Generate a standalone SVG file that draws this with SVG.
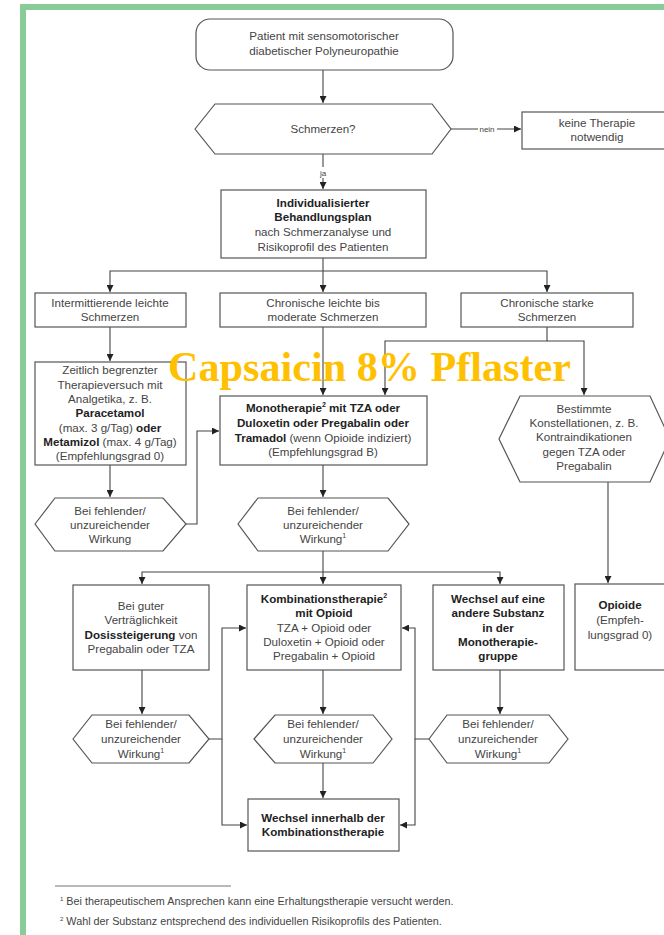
<svg xmlns="http://www.w3.org/2000/svg" width="664" height="935" viewBox="0 0 664 935">
<defs>
<marker id="ah" markerUnits="userSpaceOnUse" markerWidth="8" markerHeight="7" refX="7" refY="3.5" orient="auto">
<path d="M0,0 L7,3.5 L0,7 z" fill="#222"/>
</marker>
<style>
.n{fill:#fff;stroke:#555;stroke-width:1.2}
.t{font-family:"Liberation Sans",Arial,sans-serif;font-size:11.6px;fill:#444;text-anchor:middle}
.b{font-weight:bold;fill:#222}
.c{fill:none;stroke:#444;stroke-width:1.1}
.a{marker-end:url(#ah)}
.f{font-family:"Liberation Sans",Arial,sans-serif;font-size:10.8px;fill:#444}
.l{font-family:"Liberation Sans",Arial,sans-serif;font-size:8px;fill:#444;text-anchor:middle}
</style>
</defs>
<rect width="664" height="935" fill="#fff"/>
<g id="frame" fill="#88cd97">
<rect x="20" y="4" width="644" height="6"/>
<rect x="20" y="4" width="6" height="931"/>
</g>

<g id="connectors">
<path class="c a" d="M323 70 V103"/>
<path class="c a" d="M451 129 H521"/>
<path class="c a" d="M323 154 V189"/>
<path class="c a" d="M323 258 V292"/>
<path class="c a" d="M323 271 H110 V292"/>
<path class="c a" d="M323 271 H547 V292"/>
<path class="c a" d="M110 327 V361"/>
<path class="c a" d="M323 327 V395"/>
<path class="c a" d="M547 327 V341 H385 V395"/>
<path class="c a" d="M547 341 H584 V395"/>
<path class="c a" d="M608 482 V583"/>
<path class="c a" d="M110 465 V497"/>
<path class="c a" d="M186 524 H197 V431 H219"/>
<path class="c a" d="M323 465 V497"/>
<path class="c a" d="M323 551 V584"/>
<path class="c a" d="M323 572 H142 V584"/>
<path class="c a" d="M323 572 H500 V584"/>
<path class="c a" d="M142 670 V714"/>
<path class="c a" d="M323 670 V714"/>
<path class="c a" d="M500 670 V714"/>
<path class="c a" d="M209 739 H222 V628 H246"/>
<path class="c a" d="M222 739 V825 H247"/>
<path class="c a" d="M429 739 H415 V628 H402"/>
<path class="c a" d="M415 739 V825 H400"/>
<path class="c a" d="M323 763 V798"/>
<rect x="478" y="124" width="19" height="10" fill="#fff"/>
<text x="487" y="132" class="l">nein</text>
<rect x="318" y="167" width="10" height="11" fill="#fff"/>
<text x="323" y="176" class="l">ja</text>
</g>

<g id="start">
<rect class="n" x="196" y="19" width="257" height="51" rx="14"/>
<text class="t" x="324" y="40">Patient mit sensomotorischer</text>
<text class="t" x="324" y="55">diabetischer Polyneuropathie</text>
</g>
<g id="schmerzen">
<polygon class="n" points="195,129 215,104 432,104 451,129 432,154 215,154"/>
<text class="t" x="323" y="133">Schmerzen?</text>
</g>
<g id="keine">
<rect class="n" x="522" y="112" width="150" height="37"/>
<text class="t" x="597" y="127">keine Therapie</text>
<text class="t" x="597" y="141">notwendig</text>
</g>
<g id="plan">
<rect class="n" x="221" y="190" width="205" height="68"/>
<text class="t b" x="323" y="207">Individualisierter</text>
<text class="t b" x="323" y="221">Behandlungsplan</text>
<text class="t" x="323" y="236">nach Schmerzanalyse und</text>
<text class="t" x="323" y="251">Risikoprofil des Patienten</text>
</g>
<g id="intermittierend">
<rect class="n" x="35" y="293" width="151" height="34"/>
<text class="t" x="110" y="307">Intermittierende leichte</text>
<text class="t" x="110" y="321">Schmerzen</text>
</g>
<g id="leicht">
<rect class="n" x="220" y="293" width="206" height="34"/>
<text class="t" x="323" y="307">Chronische leichte bis</text>
<text class="t" x="323" y="321">moderate Schmerzen</text>
</g>
<g id="stark">
<rect class="n" x="461" y="293" width="172" height="34"/>
<text class="t" x="547" y="307">Chronische starke</text>
<text class="t" x="547" y="321">Schmerzen</text>
</g>
<g id="zeitlich">
<rect class="n" x="35" y="362" width="151" height="103"/>
<text class="t" x="110" y="374">Zeitlich begrenzter</text>
<text class="t" x="110" y="389">Therapieversuch mit</text>
<text class="t" x="110" y="403">Analgetika, z. B.</text>
<text class="t b" x="110" y="417">Paracetamol</text>
<text class="t" x="110" y="432">(max. 3 g/Tag) <tspan class="b">oder</tspan></text>
<text class="t" x="110" y="446"><tspan class="b">Metamizol</tspan> (max. 4 g/Tag)</text>
<text class="t" x="110" y="460">(Empfehlungsgrad 0)</text>
</g>
<g id="mono">
<rect class="n" x="220" y="396" width="207" height="69"/>
<text class="t b" x="323" y="412">Monotherapie<tspan font-size="7" dy="-5">2</tspan><tspan dy="5"> mit TZA oder</tspan></text>
<text class="t b" x="323" y="427">Duloxetin oder Pregabalin oder</text>
<text class="t" x="323" y="442"><tspan class="b">Tramadol</tspan> (wenn Opioide indiziert)</text>
<text class="t" x="323" y="456">(Empfehlungsgrad B)</text>
</g>
<g id="bestimmte">
<polygon class="n" points="499,439 520,396 650,396 670,439 650,482 520,482"/>
<text class="t" x="584" y="413">Bestimmte</text>
<text class="t" x="584" y="427">Konstellationen, z. B.</text>
<text class="t" x="584" y="441">Kontraindikationen</text>
<text class="t" x="584" y="456">gegen TZA oder</text>
<text class="t" x="584" y="470">Pregabalin</text>
</g>
<g id="hex1">
<polygon class="n" points="35,524 55,498 163,498 186,524 163,551 55,551"/>
<text class="t" x="110" y="515">Bei fehlender/</text>
<text class="t" x="110" y="529">unzureichender</text>
<text class="t" x="110" y="543">Wirkung</text>
</g>
<g id="hex2">
<polygon class="n" points="238,524 258,498 388,498 409,524 388,551 258,551"/>
<text class="t" x="323" y="515">Bei fehlender/</text>
<text class="t" x="323" y="529">unzureichender</text>
<text class="t" x="323" y="543">Wirkung<tspan font-size="7" dy="-5">1</tspan></text>
</g>
<g id="guter">
<rect class="n" x="73" y="585" width="136" height="85"/>
<text class="t" x="141" y="610">Bei guter</text>
<text class="t" x="141" y="624">Verträglichkeit</text>
<text class="t" x="141" y="639"><tspan class="b">Dosissteigerung</tspan> von</text>
<text class="t" x="141" y="653">Pregabalin oder TZA</text>
</g>
<g id="kombi">
<rect class="n" x="247" y="585" width="154" height="85"/>
<text class="t b" x="324" y="603">Kombinationstherapie<tspan font-size="7" dy="-5">2</tspan></text>
<text class="t b" x="324" y="617">mit Opioid</text>
<text class="t" x="324" y="632">TZA + Opioid oder</text>
<text class="t" x="324" y="646">Duloxetin + Opioid oder</text>
<text class="t" x="324" y="660">Pregabalin + Opioid</text>
</g>
<g id="wechselmono">
<rect class="n" x="433" y="585" width="131" height="85"/>
<text class="t b" x="498" y="603">Wechsel auf eine</text>
<text class="t b" x="498" y="617">andere Substanz</text>
<text class="t b" x="498" y="632">in der</text>
<text class="t b" x="498" y="646">Monotherapie-</text>
<text class="t b" x="498" y="660">gruppe</text>
</g>
<g id="opioide">
<rect class="n" x="575" y="584" width="100" height="86"/>
<text class="t b" x="620" y="609">Opioide</text>
<text class="t" x="620" y="624">(Empfeh-</text>
<text class="t" x="620" y="639">lungsgrad 0)</text>
</g>
<g id="hex3">
<polygon class="n" points="73,739 92,715 189,715 209,739 189,763 92,763"/>
<text class="t" x="141" y="728">Bei fehlender/</text>
<text class="t" x="141" y="743">unzureichender</text>
<text class="t" x="141" y="758">Wirkung<tspan font-size="7" dy="-5">1</tspan></text>
</g>
<g id="hex4">
<polygon class="n" points="254,739 275,715 373,715 392,739 373,763 275,763"/>
<text class="t" x="323" y="728">Bei fehlender/</text>
<text class="t" x="323" y="743">unzureichender</text>
<text class="t" x="323" y="758">Wirkung<tspan font-size="7" dy="-5">1</tspan></text>
</g>
<g id="hex5">
<polygon class="n" points="429,739 447,715 549,715 568,739 549,763 447,763"/>
<text class="t" x="498" y="728">Bei fehlender/</text>
<text class="t" x="498" y="743">unzureichender</text>
<text class="t" x="498" y="758">Wirkung<tspan font-size="7" dy="-5">1</tspan></text>
</g>
<g id="wechselkombi">
<rect class="n" x="248" y="799" width="151" height="52"/>
<text class="t b" x="323" y="822">Wechsel innerhalb der</text>
<text class="t b" x="323" y="836">Kombinationstherapie</text>
</g>
<g id="overlay">
<text x="168" y="381" font-family="'Liberation Serif','Times New Roman',serif" font-weight="bold" font-size="42" fill="#ffc000" textLength="403" lengthAdjust="spacingAndGlyphs">Capsaicin 8% Pflaster</text>
</g>
<g id="footnotes">
<path d="M55 886 H231" stroke="#777" stroke-width="1.2"/>
<text class="f" x="60" y="905"><tspan font-size="6" dy="-4">1</tspan><tspan dx="3" dy="4">Bei therapeutischem Ansprechen kann eine Erhaltungstherapie versucht werden.</tspan></text>
<text class="f" x="60" y="925"><tspan font-size="6" dy="-4">2</tspan><tspan dx="3" dy="4">Wahl der Substanz entsprechend des individuellen Risikoprofils des Patienten.</tspan></text>
</g>
</svg>
